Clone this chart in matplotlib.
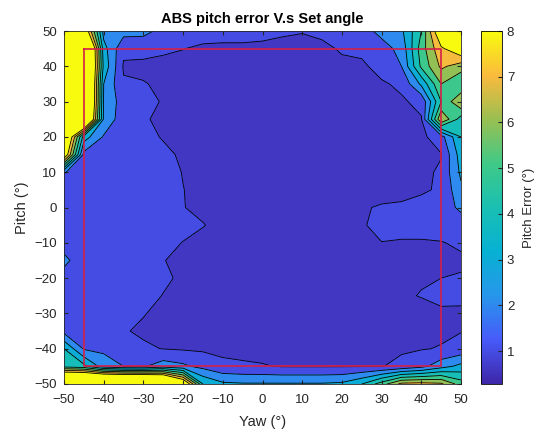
import numpy as np
import matplotlib
matplotlib.use('Agg')
import matplotlib.pyplot as plt
from matplotlib.colors import LinearSegmentedColormap, Normalize
from matplotlib.cm import ScalarMappable

plt.rcParams['font.family'] = ['Liberation Sans', 'DejaVu Sans']

# grid (deg)
yaw = [-50, -45, -40, -35, -30, -25, -20, -15, -10, -5, 0, 5, 10, 15, 20, 25, 30, 35, 40, 45, 50]
pitch = [50, 45, 40, 35, 30, 25, 20, 15, 10, 5, 0, -5, -10, -15, -20, -25, -30, -35, -40, -45, -50]

# abs pitch error (deg), one row per pitch value (top row = pitch 50)
pitch_err = [
    [12, 9.5, 2.6, 2.4, 2.3, 1.7, 1.5, 1.4, 1.3, 1.3, 1.2, 1.1, 1.05, 1.2, 1.5, 1.6, 2.3, 2.8, 5.0, 9.5, 9.5],
    [15, 14, 3.4, 1.2, 1.3, 1.15, 1.02, 0.85, 0.85, 0.85, 0.85, 0.8, 0.7, 0.8, 1.1, 1.2, 1.6, 2.3, 5.5, 7.8, 9.0],
    [15, 14, 3.7, 0.9, 0.8, 0.75, 0.7, 0.6, 0.6, 0.6, 0.6, 0.6, 0.6, 0.6, 0.8, 0.85, 1.3, 2.0, 5.2, 7.2, 6.5],
    [15, 14, 3.0, 1.1, 1.05, 0.85, 0.6, 0.6, 0.6, 0.6, 0.6, 0.6, 0.6, 0.6, 0.6, 0.7, 0.9, 1.15, 3.2, 6.0, 5.0],
    [15, 14, 2.9, 1.5, 1.2, 0.95, 0.7, 0.6, 0.6, 0.6, 0.6, 0.6, 0.6, 0.6, 0.6, 0.6, 0.7, 0.9, 1.2, 5.0, 7.0],
    [15, 13, 2.8, 1.4, 1.05, 0.9, 0.6, 0.6, 0.6, 0.6, 0.6, 0.6, 0.6, 0.6, 0.6, 0.6, 0.6, 0.7, 0.95, 7.0, 4.5],
    [11, 3.5, 1.9, 1.4, 1.2, 0.95, 0.7, 0.6, 0.6, 0.6, 0.6, 0.6, 0.6, 0.6, 0.6, 0.6, 0.6, 0.6, 0.75, 1.6, 4.0],
    [9.45, 1.7, 1.4, 1.3, 1.25, 1.15, 0.9, 0.6, 0.6, 0.6, 0.6, 0.6, 0.6, 0.6, 0.6, 0.6, 0.6, 0.6, 0.7, 0.95, 3.5],
    [2.05, 1.6, 1.35, 1.3, 1.25, 1.2, 0.98, 0.65, 0.6, 0.6, 0.6, 0.6, 0.6, 0.6, 0.6, 0.6, 0.6, 0.6, 0.75, 1.15, 3.2],
    [1.4, 1.35, 1.3, 1.3, 1.3, 1.25, 1.01, 0.85, 0.6, 0.6, 0.6, 0.6, 0.6, 0.6, 0.6, 0.6, 0.6, 0.6, 0.9, 1.1, 2.8],
    [1.3, 1.3, 1.3, 1.3, 1.3, 1.25, 1.02, 0.85, 0.6, 0.6, 0.6, 0.6, 0.6, 0.6, 0.6, 0.9, 1.1, 1.2, 1.25, 1.5, 2.2],
    [1.4, 1.3, 1.3, 1.3, 1.3, 1.25, 1.2, 1.03, 0.8, 0.6, 0.6, 0.6, 0.6, 0.6, 0.8, 0.95, 1.15, 1.2, 1.2, 1.3, 1.5],
    [1.5, 1.3, 1.3, 1.3, 1.3, 1.2, 0.98, 0.8, 0.6, 0.6, 0.6, 0.6, 0.6, 0.6, 0.8, 0.9, 0.99, 0.95, 0.95, 0.97, 1.1],
    [2.3, 1.3, 1.3, 1.3, 1.3, 1.02, 0.85, 0.6, 0.6, 0.6, 0.6, 0.6, 0.6, 0.6, 0.6, 0.6, 0.6, 0.6, 0.7, 0.8, 0.9],
    [1.5, 1.3, 1.3, 1.3, 1.25, 1.1, 0.9, 0.6, 0.6, 0.6, 0.6, 0.6, 0.6, 0.6, 0.6, 0.6, 0.6, 0.6, 0.9, 1.0, 1.05],
    [1.4, 1.3, 1.3, 1.3, 1.2, 0.98, 0.7, 0.6, 0.6, 0.6, 0.6, 0.6, 0.6, 0.6, 0.6, 0.6, 0.6, 0.85, 1.05, 1.15, 1.2],
    [1.4, 1.3, 1.3, 1.3, 1.03, 0.85, 0.6, 0.6, 0.6, 0.6, 0.6, 0.6, 0.6, 0.6, 0.6, 0.6, 0.6, 0.6, 0.6, 0.9, 0.85],
    [1.7, 1.6, 1.4, 1.05, 0.9, 0.7, 0.6, 0.6, 0.6, 0.6, 0.6, 0.6, 0.6, 0.6, 0.6, 0.6, 0.6, 0.6, 0.7, 0.85, 0.97],
    [4.0, 1.9, 1.8, 1.4, 1.1, 0.98, 0.9, 0.85, 0.8, 0.8, 0.75, 0.7, 0.7, 0.7, 0.7, 0.8, 0.85, 0.9, 0.95, 1.05, 1.3],
    [4.6, 4.3, 2.5, 2.0, 1.9, 2.5, 2.2, 1.7, 1.2, 1.1, 1.05, 0.95, 0.95, 0.95, 0.95, 0.96, 0.97, 1.2, 1.7, 2.6, 3.3],
    [15, 15, 15, 15, 15, 14, 10, 4.0, 3.2, 3.1, 3.1, 3.1, 3.1, 3.1, 3.2, 4.0, 5.5, 7.3, 7.4, 7.2, 5.5],
]

levels_mid = [1, 2, 3, 4, 5, 6, 7, 8]
clim = (0.28, 8.0)

# parula-like colormap
parula_pts = [
    (0.2422, 0.1504, 0.6603), (0.2780, 0.3556, 0.9777), (0.1540, 0.5902, 0.9218),
    (0.0265, 0.6937, 0.8237), (0.1000, 0.7500, 0.7000), (0.2500, 0.7900, 0.5300),
    (0.6000, 0.7500, 0.3200), (0.9800, 0.7300, 0.2400), (0.9763, 0.9831, 0.0538),
]
parula = LinearSegmentedColormap.from_list('parula', parula_pts)
norm = Normalize(*clim)

Z = np.array(pitch_err)
levels = [Z.min()] + levels_mid + [Z.max()]
# matlab colours each band by its lower level
fill_colors = [parula(norm(max(lv, clim[0]))) for lv in levels[:-1]]

fig = plt.figure(figsize=(5.42, 4.33), dpi=100)
ax = fig.add_axes([64 / 542, 1 - 384 / 433, 397 / 542, 353 / 433])
ax.contourf(yaw, pitch, Z, levels=levels, colors=fill_colors)
ax.contour(yaw, pitch, Z, levels=levels_mid, colors='k', linewidths=0.6)

# +/-45 deg box
ax.plot([-45, 45, 45, -45, -45], [45, 45, -45, -45, 45], color='#d42048', lw=1.2, zorder=5)

ax.set_xlim(-50, 50)
ax.set_ylim(-50, 50)
ax.set_xticks(range(-50, 51, 10))
ax.set_yticks(range(-50, 51, 10))
ax.tick_params(direction='in', top=True, right=True, labelsize=9.5, colors='#262626',
               length=3, pad=5)
ax.tick_params(axis='x', pad=7)
for s in ax.spines.values():
    s.set_color('#262626')
    s.set_linewidth(0.6)
ax.set_xlabel('Yaw (°)', fontsize=10.5, color='#262626', labelpad=7)
ax.set_ylabel('Pitch (°)', fontsize=10.5, color='#262626', labelpad=4)
ax.set_title('ABS pitch error V.s Set angle', fontsize=10.5, fontweight='bold')

cax = fig.add_axes([481 / 542, 1 - 384 / 433, 21 / 542, 353 / 433])
cb = fig.colorbar(ScalarMappable(norm=norm, cmap=parula), cax=cax)
cb.set_ticks(levels_mid)
cb.ax.tick_params(direction='in', labelsize=9.5, colors='#262626', length=3)
cb.outline.set_linewidth(0.6)
cb.set_label('Pitch Error (°)', fontsize=9.5, color='#262626', labelpad=6)

fig.savefig('out.png', dpi=100)
